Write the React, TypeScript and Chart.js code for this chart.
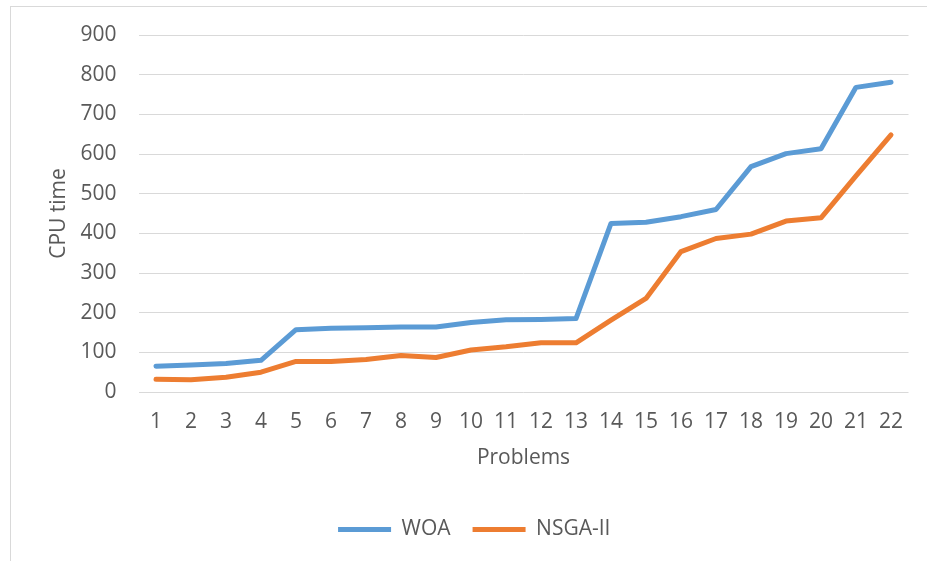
import React, { useEffect, useRef } from "react";
import { Chart, registerables } from "chart.js";

Chart.register(...registerables);

const categories = ["1","2","3","4","5","6","7","8","9","10","11","12","13","14","15","16","17","18","19","20","21","22"];
const woa = [65, 68, 72, 80, 157, 161, 162, 164, 164, 175, 182, 183, 185, 425, 428, 442, 460, 568, 601, 613, 768, 781];
const nsga = [32, 31, 37, 50, 77, 77, 82, 92, 87, 106, 114, 124, 124, 181, 236, 354, 387, 398, 431, 439, 545, 648];
const yTicksMax = 900;
const yStep = 100;

const FONT = "'Open Sans', sans-serif";
const TEXT = "#595959";
const FS = 21;

export default function App() {
  const ref = useRef<HTMLCanvasElement | null>(null);
  useEffect(() => {
    if (!ref.current) return;
    const chart = new Chart(ref.current, {
      type: "line",
      data: {
        labels: categories,
        datasets: [
          {
            label: "WOA",
            data: woa,
            borderColor: "#5B9BD5",
            backgroundColor: "#5B9BD5",
            borderWidth: 5,
            pointRadius: 0,
            borderCapStyle: "round",
            borderJoinStyle: "round",
            tension: 0,
          },
          {
            label: "NSGA-II",
            data: nsga,
            borderColor: "#ED7D31",
            backgroundColor: "#ED7D31",
            borderWidth: 5,
            pointRadius: 0,
            borderCapStyle: "round",
            borderJoinStyle: "round",
            tension: 0,
          },
        ],
      },
      options: {
        animation: false,
        responsive: false,
        layout: { padding: { left: 40, top: 35, right: 18.5, bottom: 11 } },
        plugins: {
          tooltip: { enabled: false },
          legend: {
            position: "bottom",
            labels: {
              usePointStyle: true,
              pointStyle: "line",
              pointStyleWidth: 53,
              boxHeight: FS,
              color: TEXT,
              font: { family: FONT, size: FS },
              padding: 22,
            },
          },
        },
        scales: {
          x: {
            offset: true,
            grid: { display: false, drawTicks: false },
            border: { display: false },
            ticks: { color: TEXT, font: { family: FONT, size: FS }, padding: 17, maxRotation: 0, autoSkip: false },
            title: { display: true, text: "Problems", color: TEXT, font: { family: FONT, size: FS }, padding: { top: 6, bottom: 26 } },
            afterFit: (s: any) => { s.height = 105; },
          },
          y: {
            min: 0,
            max: yTicksMax,
            grid: { color: "#d9d9d9", lineWidth: 1, drawTicks: false },
            border: { display: false },
            ticks: { stepSize: yStep, color: TEXT, font: { family: FONT, size: FS }, padding: 22 },
            title: { display: true, text: "CPU time", color: TEXT, font: { family: FONT, size: FS }, padding: { top: 6, bottom: 0 } },
            afterFit: (s: any) => { s.width = 98.5; },
          },
        },
      },
    });
    return () => chart.destroy();
  }, []);
  return (
    <div style={{ position: "fixed", left: 0, top: 0, width: 927, height: 561, overflow: "hidden", background: "#fff" }}>
      <div style={{ position: "absolute", left: 10, top: 6, width: 960, height: 600, border: "1px solid #d9d9d9", boxSizing: "border-box" }} />
      <canvas ref={ref} width={927} height={561} style={{ position: "absolute", left: 0, top: 0, width: 927, height: 561 }} />
    </div>
  );
}
